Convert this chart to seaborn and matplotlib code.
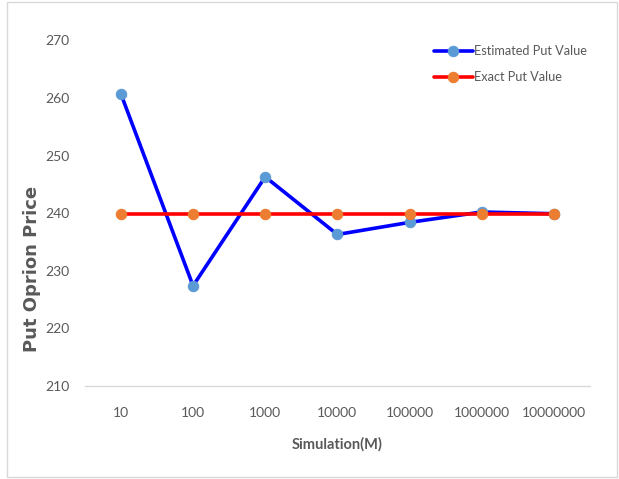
import matplotlib
matplotlib.use("Agg")
import matplotlib.pyplot as plt
import seaborn as sns
import pandas as pd
from matplotlib.patches import Rectangle

simulations = ["10", "100", "1000", "10000", "100000", "1000000", "10000000"]
estimated_put = [260.7, 227.4, 246.3, 236.3, 238.4, 240.2, 239.9]
exact_put = [239.85, 239.85, 239.85, 239.85, 239.85, 239.85, 239.85]

sns.set_theme(style="white")
plt.rcParams['font.family'] = ['Lato', 'DejaVu Sans']

df = pd.DataFrame({
    "Simulation": simulations * 2,
    "Value": estimated_put + exact_put,
    "Series": ["Estimated Put Value"] * len(simulations) + ["Exact Put Value"] * len(simulations),
})

fig = plt.figure(figsize=(6.19, 4.79), dpi=100)
ax = fig.add_axes([0.137, 0.194, 0.816, 0.722])

line_colors = {"Estimated Put Value": "#0000FF", "Exact Put Value": "#FF0000"}
marker_colors = {"Estimated Put Value": "#5B9BD5", "Exact Put Value": "#ED7D31"}

for name in ["Estimated Put Value", "Exact Put Value"]:
    sub = df[df["Series"] == name]
    sns.lineplot(data=sub, x="Simulation", y="Value", ax=ax, color=line_colors[name],
                 linewidth=2.6, marker="o", markersize=7.5,
                 markerfacecolor=marker_colors[name], markeredgecolor=marker_colors[name],
                 label=name, sort=False)

ax.set_xlim(-0.5, len(simulations) - 0.5)
ax.set_ylim(210, 270)
ax.set_yticks(range(210, 271, 10))
for s in ["top", "right", "left"]:
    ax.spines[s].set_visible(False)
ax.spines["bottom"].set_color("#D9D9D9")
ax.spines["bottom"].set_linewidth(1)
ax.tick_params(axis="both", colors="#595959", labelsize=10, length=0)
ax.tick_params(axis="x", pad=15)
ax.tick_params(axis="y", pad=11)
ax.set_xlabel("Simulation(M)", fontsize=10.5, fontweight="bold", color="#595959", labelpad=13)
ax.set_ylabel("Put Oprion Price", fontsize=13, fontweight="bold", color="#595959",
              family="DejaVu Sans")
ax.yaxis.label.set_va("center")
ax.yaxis.set_label_coords(-0.105, 0.338)

leg = ax.legend(loc="upper right", frameon=False, fontsize=9.2, labelcolor="#595959",
                handlelength=3.0, handletextpad=0.15, borderaxespad=0.0, labelspacing=1.1,
                bbox_to_anchor=(1.005, 1.0))

fig.patches.append(Rectangle((0.011, 0.004), 0.985, 0.992, transform=fig.transFigure,
                             fill=False, edgecolor="#D9D9D9", linewidth=1))

fig.savefig("out.png", dpi=100)
